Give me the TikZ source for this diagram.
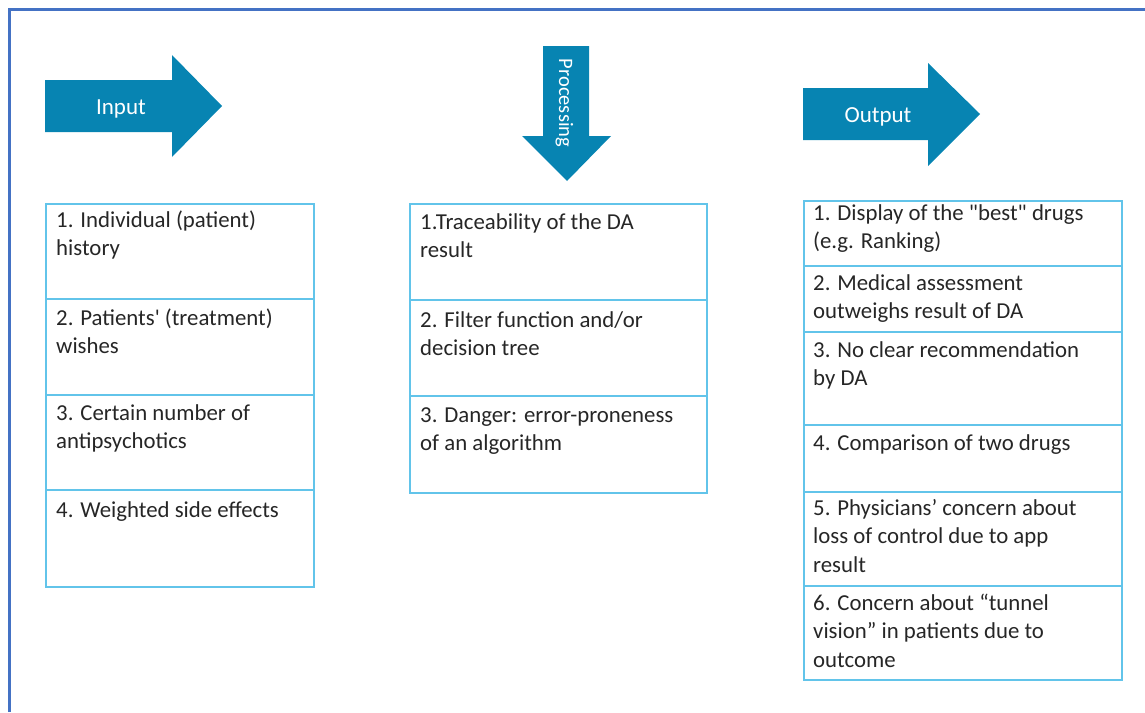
\documentclass[tikz,border=0pt]{standalone}
\usepackage{fontspec}
\setmainfont{Carlito}
\usetikzlibrary{calc}
\definecolor{arrowblue}{HTML}{0784B2}
\definecolor{cellblue}{HTML}{62C4EA}
\definecolor{frameblue}{HTML}{4472C4}
\definecolor{txtgray}{HTML}{262626}
\tikzset{
  cell/.style={draw=cellblue, line width=1.6pt, anchor=north west, inner sep=0pt, fill=none},
  celltext/.style={anchor=base west, inner sep=0pt, text=txtgray, font=\fontsize{22.8}{28.5}\selectfont},
  bigarrow/.style={fill=arrowblue},
  arrowlabel/.style={anchor=base, inner sep=0pt, text=white, font=\fontsize{23}{28}\selectfont},
  frameline/.style={draw=frameblue, line width=3pt}
}
\newcommand{\lines}[1]{\begin{tabular}[t]{@{}l@{}}#1\end{tabular}}
\begin{document}
\begin{tikzpicture}[x=1pt,y=-1pt]
\useasboundingbox (0,0) rectangle (1145,712);
% frame
\draw[frameline] (9.5,712) -- (9.5,9.5) -- (1145,9.5);
% arrows
\fill[bigarrow] (45,80) -- (172,80) -- (172,55) -- (222,106) -- (172,157) -- (172,132) -- (45,132) -- cycle;
\node[arrowlabel] (lin) at (121,114) {Input};
\fill[bigarrow] (543,46) -- (589,46) -- (589,136) -- (611,136) -- (567,181) -- (522,136) -- (543,136) -- cycle;
\node[arrowlabel, rotate=-90, font=\fontsize{20.5}{24}\selectfont] (lproc) at (559,103) {Processing};
\fill[bigarrow] (803,88) -- (928,88) -- (928,63) -- (980,114) -- (928,166) -- (928,140) -- (803,140) -- cycle;
\node[arrowlabel] (lout) at (878,122) {Output};
% input cells
\node[cell, minimum width=268pt, minimum height=95pt] (in1) at (45,203) {};
\node[cell, minimum width=268pt, minimum height=96pt] (in2) at (45,298) {};
\node[cell, minimum width=268pt, minimum height=95pt] (in3) at (45,394) {};
\node[cell, minimum width=268pt, minimum height=97pt] (in4) at (45,489) {};
\node[celltext] (tin1) at (56,227) {\lines{1. Individual (patient)\\history}};
\node[celltext] (tin2) at (56,325) {\lines{2. Patients\textquotesingle{} (treatment)\\wishes}};
\node[celltext] (tin3) at (56,420) {\lines{3. Certain number of\\antipsychotics}};
\node[celltext] (tin4) at (56,517) {\lines{4. Weighted side effects}};
% processing cells
\node[cell, minimum width=297pt, minimum height=96pt] (pr1) at (409,203) {};
\node[cell, minimum width=297pt, minimum height=96pt] (pr2) at (409,299) {};
\node[cell, minimum width=297pt, minimum height=97pt] (pr3) at (409,395) {};
\node[celltext] (tpr1) at (420,229) {\lines{1.Traceability of the DA\\result}};
\node[celltext] (tpr2) at (420,327) {\lines{2. Filter function and/or\\decision tree}};
\node[celltext] (tpr3) at (420,422) {\lines{3. Danger: error-proneness\\of an algorithm}};
% output cells
\node[cell, minimum width=318pt, minimum height=65pt] (out1) at (803,200) {};
\node[cell, minimum width=318pt, minimum height=66pt] (out2) at (803,265) {};
\node[cell, minimum width=318pt, minimum height=93pt] (out3) at (803,331) {};
\node[cell, minimum width=318pt, minimum height=67pt] (out4) at (803,424) {};
\node[cell, minimum width=318pt, minimum height=94pt] (out5) at (803,491) {};
\node[cell, minimum width=318pt, minimum height=94pt] (out6) at (803,585) {};
\node[celltext] (tout1) at (813,220) {\lines{1. Display of the \textquotedbl best\textquotedbl{} drugs\\(e.g. Ranking)}};
\node[celltext] (tout2) at (813,290) {\lines{2. Medical assessment\\outweighs result of DA}};
\node[celltext] (tout3) at (813,357) {\lines{3. No clear recommendation\\by DA}};
\node[celltext] (tout4) at (813,450) {\lines{4. Comparison of two drugs}};
\node[celltext] (tout5) at (813,515) {\lines{5. Physicians’ concern about\\loss of control due to app\\result}};
\node[celltext] (tout6) at (813,610) {\lines{6. Concern about “tunnel\\vision” in patients due to\\outcome}};
\end{tikzpicture}
\end{document}
